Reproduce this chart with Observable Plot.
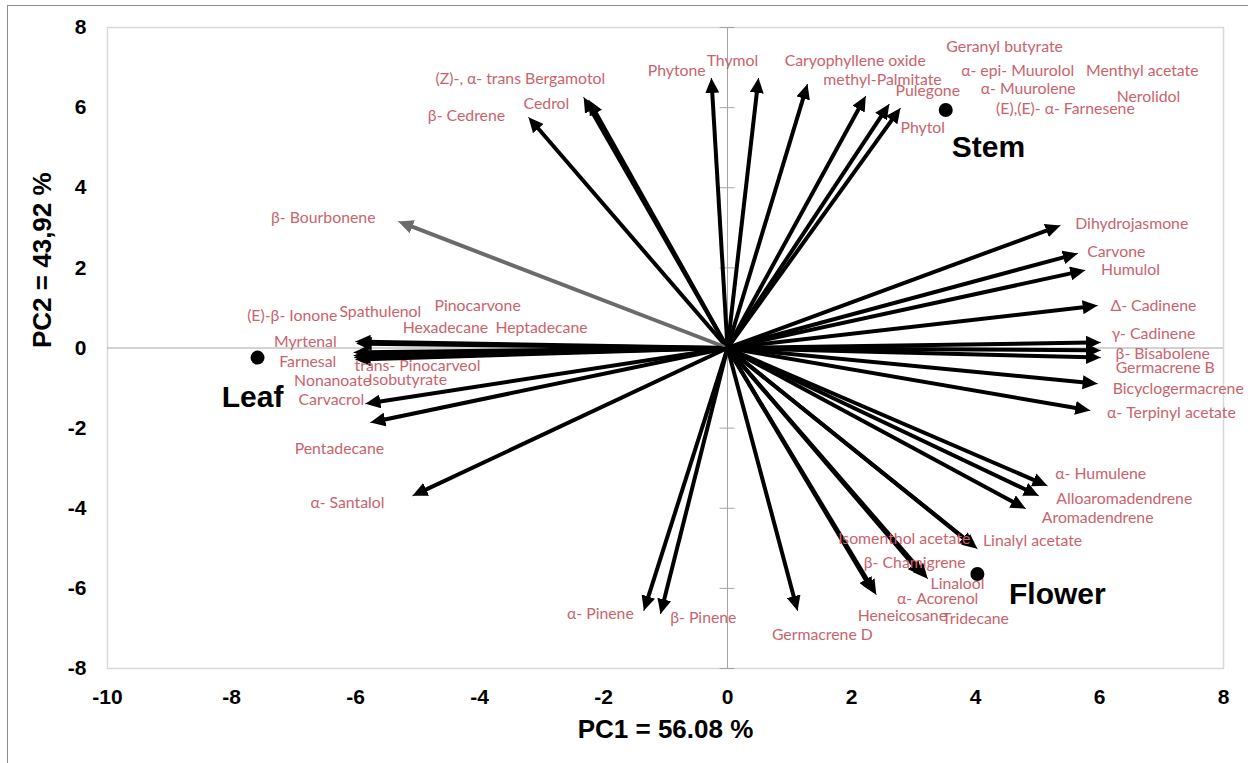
<!DOCTYPE html>
<html><head><meta charset="utf-8">
<script src="https://cdn.jsdelivr.net/npm/d3@7"></script>
<script src="https://cdn.jsdelivr.net/npm/@observablehq/plot@0.6"></script>
<style>
html,body{margin:0;padding:0;background:#fff;}
#wrap{position:relative;width:1248px;height:763px;overflow:hidden;}
#border{position:absolute;left:7px;top:5px;width:1260px;height:780px;border-left:1px solid #8c8c8c;border-top:1px solid #8c8c8c;pointer-events:none;}
#wrap svg{position:absolute;left:0;top:0;}
</style></head><body><div id="wrap"><div id="border"></div></div>
<script>
// Loading vectors (arrow tips)
const arrowNames = ["β- Cedrene","(Z)-, α- trans Bergamotol","Cedrol","Phytone","Thymol","Caryophyllene oxide","methyl-Palmitate","Pulegone","Phytol","β- Bourbonene","Myrtenal","(E)-β- Ionone","Farnesal","Nonanoate","trans- Pinocarveol","Isobutyrate","Carvacrol","Pentadecane","α- Santalol","α- Pinene","β- Pinene","Germacrene D","Heneicosane","α- Acorenol","β- Chamigrene","Linalool","Isomenthol acetate","Linalyl acetate","Aromadendrene","Alloaromadendrene","α- Humulene","α- Terpinyl acetate","Bicyclogermacrene","Germacrene B","β- Bisabolene","γ- Cadinene","Δ- Cadinene","Humulol","Carvone","Dihydrojasmone"];
const arrowPC1 = [-3.21,-2.32,-2.24,-0.26,0.50,1.29,2.23,2.61,2.79,-5.31,-6.00,-5.98,-6.03,-6.03,-6.02,-6.00,-5.84,-5.76,-5.08,-1.35,-1.08,1.13,2.40,2.35,3.15,3.23,3.99,4.03,4.81,5.02,5.16,5.85,5.97,6.02,6.02,6.02,5.97,5.77,5.65,5.37];
const arrowPC2 = [5.76,6.26,6.19,6.74,6.74,6.59,6.29,6.09,5.99,3.16,0.16,0.11,-0.11,-0.19,-0.24,-0.29,-1.39,-1.86,-3.69,-6.56,-6.64,-6.56,-6.16,-6.10,-5.69,-5.76,-4.97,-5.01,-4.01,-3.69,-3.44,-1.56,-0.89,-0.24,-0.06,0.14,1.06,1.94,2.36,3.06];

// Compound data labels (positions in PC units)
const labelTexts = ["(Z)-, α- trans Bergamotol","Cedrol","β- Cedrene","Phytone","Thymol","Caryophyllene oxide","methyl-Palmitate","Pulegone","Phytol","Geranyl butyrate","α- epi- Muurolol","Menthyl acetate","α- Muurolene","Nerolidol","(E),(E)- α- Farnesene","β- Bourbonene","(E)-β- Ionone","Spathulenol","Pinocarvone","Hexadecane","Heptadecane","Myrtenal","Farnesal","trans- Pinocarveol","Nonanoate","Isobutyrate","Carvacrol","Pentadecane","α- Santalol","Dihydrojasmone","Carvone","Humulol","Δ- Cadinene","γ- Cadinene","β- Bisabolene","Germacrene B","Bicyclogermacrene","α- Terpinyl acetate","α- Humulene","Alloaromadendrene","Aromadendrene","Linalyl acetate","Isomenthol acetate","β- Chamigrene","Linalool","α- Acorenol","Heneicosane","Tridecane","Germacrene D","α- Pinene","β- Pinene"];
const labelX = [-3.34,-2.92,-4.21,-0.82,0.08,2.06,2.50,3.23,3.15,4.47,4.68,6.69,4.85,6.79,5.45,-6.52,-7.02,-5.60,-4.03,-4.55,-3.00,-6.81,-6.77,-5.00,-6.37,-5.16,-6.39,-6.26,-6.13,6.52,6.27,6.50,6.87,6.87,7.02,7.06,7.27,7.16,6.02,6.40,5.97,4.92,2.85,3.02,3.71,3.39,2.82,4.00,1.53,-2.05,-0.39];
const labelY = [6.71,6.09,5.79,6.91,7.16,7.16,6.69,6.41,5.49,7.51,6.91,6.91,6.46,6.26,5.96,3.24,0.81,0.89,1.04,0.51,0.51,0.14,-0.34,-0.46,-0.81,-0.79,-1.29,-2.51,-3.86,3.09,2.39,1.94,1.06,0.34,-0.14,-0.49,-1.01,-1.61,-3.14,-3.76,-4.24,-4.81,-4.76,-5.36,-5.89,-6.26,-6.69,-6.76,-7.16,-6.64,-6.74];

// Plant organs (scores)
const groupNames = ["Leaf","Stem","Flower"];
const groupPC1 = [-7.58, 3.52, 4.03];
const groupPC2 = [-0.24, 5.94, -5.64];
const groupLabelX = [-7.66, 4.21, 5.32];
const groupLabelY = [-1.24, 5.01, -6.14];

const xTicks = [-10,-8,-6,-4,-2,0,2,4,6,8];
const yTicks = [-8,-6,-4,-2,0,2,4,6,8];
const xTitle = "PC1 = 56.08 %";
const yTitle = "PC2 = 43,92 %";

const arrows = arrowNames.map((name,i)=>({name, x: arrowPC1[i], y: arrowPC2[i]}));
const labels = labelTexts.map((t,i)=>({t, x: labelX[i], y: labelY[i]}));
const groups = groupNames.map((n,i)=>({n, x: groupPC1[i], y: groupPC2[i], lx: groupLabelX[i], ly: groupLabelY[i]}));
const arrowColor = d => d.name === "β- Bourbonene" ? "#6b6b6b" : "#000000";
const labelColor = "#c9636c";
const boldFont = "'Liberation Sans', Arial, sans-serif";
const hyphen = d => String(d);

const svg = Plot.plot({
  width: 1248, height: 763,
  marginLeft: 107, marginRight: 25, marginTop: 27, marginBottom: 95,
  x: {domain: [-10, 8], ticks: xTicks, tickSize: 0, tickPadding: 21, tickFormat: hyphen, label: null},
  y: {domain: [-8, 8], ticks: yTicks, tickSize: 0, tickPadding: 21, tickFormat: hyphen, label: null},
  style: {fontFamily: boldFont, fontSize: "21px", fontWeight: "bold", color: "#000", background: "transparent", overflow: "visible"},
  marks: [
    Plot.frame({stroke: "#d9d9d9", strokeWidth: 1.5}),
    Plot.ruleX([0], {stroke: "#a6a6a6", strokeWidth: 1}),
    Plot.ruleY([0], {stroke: "#a6a6a6", strokeWidth: 1}),
    Plot.ruleY(yTicks, {y: d => d, x1: -0.12, x2: 0.12, stroke: "#a6a6a6", strokeWidth: 1}),
    Plot.arrow(arrows, {x1: 0, y1: 0, x2: "x", y2: "y", headLength: 0, insetEnd: 10, strokeWidth: 4, strokeLinecap: "butt", stroke: arrowColor}),
    Plot.link(arrows, {x1: 0, y1: 0, x2: "x", y2: "y", strokeWidth: 1, stroke: arrowColor, markerEnd: "arrow"}),
    Plot.text(labels, {x: "x", y: "y", text: "t", fill: labelColor, fontFamily: "Lato, 'Open Sans', sans-serif", fontSize: 15.8, fontWeight: "normal", lineAnchor: "middle"}),
    Plot.dot(groups, {x: "x", y: "y", r: 7, fill: "#000"}),
    Plot.text(groups, {x: "lx", y: "ly", text: "n", fontFamily: boldFont, fontSize: 30, fontWeight: "bold", fill: "#000", lineAnchor: "middle"}),
    Plot.text([xTitle], {frameAnchor: "bottom", dy: 61, text: d => d, fontFamily: boldFont, fontSize: 26, fontWeight: "bold", fill: "#000", lineAnchor: "middle"}),
    Plot.text([yTitle], {frameAnchor: "left", dx: -65, rotate: -90, text: d => d, fontFamily: boldFont, fontSize: 26, fontWeight: "bold", fill: "#000", lineAnchor: "middle"})
  ]
});

// Filled triangular arrowheads
svg.querySelectorAll("marker").forEach(m => {
  const c = m.getAttribute("stroke") || "#000";
  m.setAttribute("viewBox", "-15 -7 15 14");
  m.setAttribute("markerWidth", 15);
  m.setAttribute("markerHeight", 14);
  m.setAttribute("markerUnits", "userSpaceOnUse");
  m.setAttribute("fill", c);
  m.setAttribute("stroke", "none");
  const p = m.querySelector("path");
  if (p) { p.setAttribute("d", "M-15,-7L0,0L-15,7Z"); p.setAttribute("fill", c); p.setAttribute("stroke", "none"); }
});

document.getElementById("wrap").appendChild(svg);
</script>
</body></html>
